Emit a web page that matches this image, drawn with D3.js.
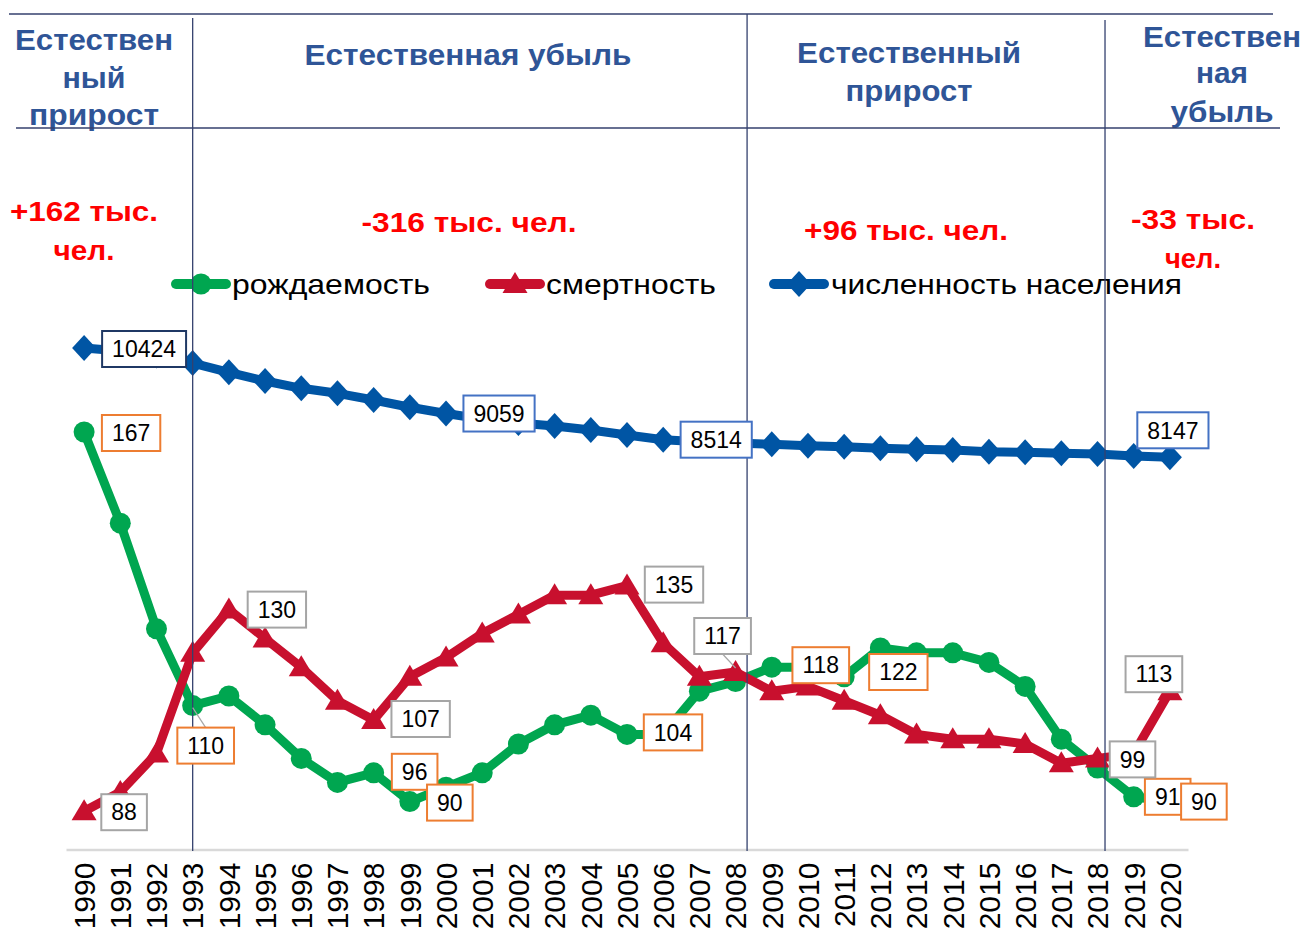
<!DOCTYPE html>
<html>
<head>
<meta charset="utf-8">
<script src="https://cdn.jsdelivr.net/npm/d3@7"></script>
<style>
	body{margin:0;background:#fff;}
	text{font-family:Arial,"Liberation Sans",sans-serif;}
</style>
</head>
<body>
<div class="chart"></div>
<script>
// ---- data (thousand people) ----
var years = [1990,1991,1992,1993,1994,1995,1996,1997,1998,1999,2000,2001,2002,2003,2004,2005,
	2006,2007,2008,2009,2010,2011,2012,2013,2014,2015,2016,2017,2018,2019,2020];
var births = [167,148,126,110,112,106,99,94,96,90,93,96,102,106,108,104,
	104,113,115,118,118,116,122,121,121,119,114,103,97,91,90];
var deaths = [88,92,100,121,130,124,118,111,107,116,120,125,129,133,133,135,
	123,116,117,113,114,111,108,104,103,103,102,98,99,100,113];
var population = [10424,10360,10270,10110,9918,9736,9584,9480,9341,9189,9059,8945,8861,8799,8716,8612,
	8514,8470,8445,8418,8389,8368,8335,8314,8299,8264,8251,8230,8216,8174,8147];
var seriesNames = ["рождаемость","смертность","численность населения"];
var periodHeads = [["Естествен","ный","прирост"],["Естественная убыль"],["Естественный","прирост"],["Естествен","ная","убыль"]];
var periodTotals = [["+162 тыс.","чел."],["-316 тыс. чел."],["+96 тыс. чел."],["-33 тыс.","чел."]];

var w=1307, h=937;
var green="#00A650", red="#C8102E", blue="#0055A4", head="#2F5597", rule="#34416E";

var svg=d3.select(".chart").append("svg").attr("width",w).attr("height",h);

var x=d3.scaleBand().domain(years).range([66,1188]);
function px(yr){ return x(yr)+x.bandwidth()/2; }
var y=d3.scaleLinear().domain([80,167]).range([849.6,432]);
var yPop=d3.scaleLinear().domain([8147,10424]).range([457.3,348]);

// header text
var headLayout=[
	{cx:94, base:[50,88,125], len:[158,63,130]},
	{cx:468, base:[65], len:[327]},
	{cx:909, base:[63,101], len:[224,127]},
	{cx:1222, base:[47,83,122], len:[158,52,103]}
];
var totLayout=[
	{cx:84, base:[221,260], len:[148,61]},
	{cx:469, base:[232], len:[215]},
	{cx:906, base:[240], len:[204]},
	{cx:1193, base:[229,268], len:[124,56]}
];
function stretchedText(g, lines, lay, size, color){
	lines.forEach(function(t,i){
		g.append("text")
			.attr("x",lay.cx).attr("y",lay.base[i])
			.attr("text-anchor","middle")
			.attr("textLength",lay.len[i]).attr("lengthAdjust","spacingAndGlyphs")
			.style("font-size",size+"px").style("font-weight","bold").style("fill",color)
			.text(t);
	});
}
var hg=svg.append("g");
periodHeads.forEach(function(l,i){ stretchedText(hg,l,headLayout[i],30,head); });
periodTotals.forEach(function(l,i){ stretchedText(hg,l,totLayout[i],28,"#FF0000"); });

// legend
var legLayout=[{x0:171,tx:232,len:198},{x0:485,tx:546,len:170},{x0:769,tx:831,len:351}];
var legColors=[green,red,blue];
var lg=svg.append("g");
seriesNames.forEach(function(n,i){
	var L=legLayout[i];
	lg.append("line").attr("x1",L.x0+5).attr("x2",L.x0+55).attr("y1",284).attr("y2",284)
		.attr("stroke",legColors[i]).attr("stroke-width",10).attr("stroke-linecap","round");
	lg.append("path").attr("transform","translate("+(L.x0+30)+",284)")
		.attr("d",markerPath(i)).attr("fill",legColors[i]);
	lg.append("text").attr("x",L.tx).attr("y",294)
		.attr("textLength",L.len).attr("lengthAdjust","spacingAndGlyphs")
		.style("font-size","28px").style("fill","#000").text(n);
});

function markerPath(i){
	if(i==0) return d3.symbol(d3.symbolCircle).size(Math.PI*10.5*10.5)();
	if(i==1) return "M0,-12L12.5,9L-12.5,9Z";
	return "M0,-13L12,0L0,13L-12,0Z";
}

// axis
var ax=svg.append("g").attr("transform","translate(0,849.6)")
	.call(d3.axisBottom(x).tickSize(0).tickSizeOuter(0));
ax.select(".domain").attr("stroke","#D9D9D9").attr("stroke-width",2.5);
ax.selectAll("text")
	.attr("transform","rotate(-90)")
	.attr("x",-13).attr("y",0).attr("dy","0.36em")
	.style("text-anchor","end").style("font-size","30px").style("fill","#000")
	.style("font-family","Arial, 'Liberation Sans', sans-serif");

// series
var series=[
	{vals:births, sc:y, color:green, m:0},
	{vals:deaths, sc:y, color:red, m:1},
	{vals:population, sc:yPop, color:blue, m:2}
];
series.forEach(function(s){
	var line=d3.line().x(function(d,i){ return px(years[i]); }).y(function(d){ return s.sc(d); });
	var g=svg.append("g");
	g.append("path").datum(s.vals).attr("d",line).attr("fill","none")
		.attr("stroke",s.color).attr("stroke-width",9).attr("stroke-linejoin","round");
	g.selectAll("path.mk").data(s.vals).enter().append("path").attr("class","mk")
		.attr("transform",function(d,i){ return "translate("+px(years[i])+","+s.sc(d)+")"; })
		.attr("d",markerPath(s.m)).attr("fill",s.color);
});

// period separators
var rules=svg.append("g").attr("stroke",rule).attr("stroke-width",1.3);
rules.append("line").attr("x1",9).attr("x2",1273).attr("y1",14).attr("y2",14);
rules.append("line").attr("x1",16).attr("x2",1280).attr("y1",128).attr("y2",128);
[{yr:1993,off:0,top:18},{yr:2008,off:11.5,top:14},{yr:2018,off:7.5,top:20}].forEach(function(r){
	rules.append("line").attr("x1",px(r.yr)+r.off).attr("x2",px(r.yr)+r.off)
		.attr("y1",r.top).attr("y2",851);
});

// data labels
var labels=[
	{s:2, yr:1990, dx:60, dy:1, c:"#1F3864"},
	{s:2, yr:2000, dx:53, dy:0, c:"#4472C4"},
	{s:2, yr:2006, dx:53, dy:0, c:"#4472C4"},
	{s:2, yr:2020, dx:3, dy:-27, c:"#4472C4"},
	{s:0, yr:1990, dx:47, dy:1, c:"#ED7D31"},
	{s:0, yr:1993, dx:13, dy:40, c:"#ED7D31", lead:true},
	{s:0, yr:1998, dx:41, dy:-1, c:"#ED7D31"},
	{s:0, yr:1999, dx:40, dy:1, c:"#ED7D31"},
	{s:0, yr:2005, dx:46, dy:-2, c:"#ED7D31"},
	{s:0, yr:2009, dx:49, dy:-2, c:"#ED7D31"},
	{s:0, yr:2012, dx:18, dy:24, c:"#ED7D31"},
	{s:0, yr:2019, dx:34, dy:0, c:"#ED7D31"},
	{s:0, yr:2020, dx:34, dy:0, c:"#ED7D31"},
	{s:1, yr:1990, dx:40, dy:1, c:"#A5A5A5"},
	{s:1, yr:1994, dx:48, dy:0, c:"#A5A5A5"},
	{s:1, yr:1998, dx:47, dy:-1, c:"#A5A5A5"},
	{s:1, yr:2005, dx:47, dy:-1, c:"#A5A5A5"},
	{s:1, yr:2008, dx:-13, dy:-36, c:"#A5A5A5", lead:true},
	{s:1, yr:2018, dx:35, dy:1, c:"#A5A5A5"},
	{s:1, yr:2020, dx:-16, dy:-17, c:"#A5A5A5"}
];
var lbl=svg.append("g");
labels.forEach(function(L){
	var s=series[L.s], i=years.indexOf(L.yr), v=s.vals[i];
	var x0=px(L.yr), y0=s.sc(v), cx=x0+L.dx, cy=y0+L.dy;
	var g=lbl.append("g");
	var t=g.append("text").attr("x",cx).attr("y",cy).attr("dy","0.36em")
		.attr("text-anchor","middle").style("font-size","23px").style("fill","#000").text(v);
	var bw=t.node().getComputedTextLength()+20, bh=36;
	if(L.lead){
		var ey=L.dy>0 ? cy-bh/2 : cy+bh/2;
		g.insert("line","text").attr("x1",cx).attr("y1",ey).attr("x2",x0).attr("y2",y0-(L.dy>0?-2:4))
			.attr("stroke","#A5A5A5").attr("stroke-width",1.2);
	}
	g.insert("rect","text").attr("x",cx-bw/2).attr("y",cy-bh/2).attr("width",bw).attr("height",bh)
		.attr("fill","#fff").attr("stroke",L.c).attr("stroke-width",2);
});
</script>
</body>
</html>
